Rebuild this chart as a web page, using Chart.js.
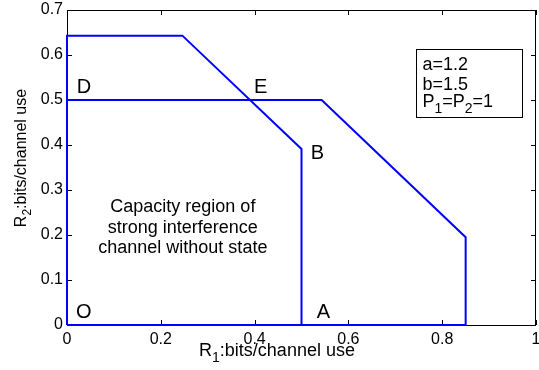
<!DOCTYPE html>
<html>
<head>
<meta charset="utf-8">
<script src="https://cdn.jsdelivr.net/npm/chart.js@4.4.1/dist/chart.umd.min.js"></script>
<style>
  html, body { margin: 0; padding: 0; background: #fff; overflow: hidden; }
  canvas { display: block; }
</style>
</head>
<body>
<canvas id="c" width="539" height="370"></canvas>
<script>
// capacity region with common state info (outer) and without state (inner)
const outerR1 = [0, 0, 0.543, 0.85, 0.85, 0];
const outerR2 = [0, 0.5, 0.5, 0.195, 0, 0];
const innerR1 = [0, 0, 0.246, 0.5, 0.5, 0];
const innerR2 = [0, 0.643, 0.643, 0.391, 0, 0];

const xTicks = [0, 0.2, 0.4, 0.6, 0.8, 1];
const yTicks = [0, 0.1, 0.2, 0.3, 0.4, 0.5, 0.6, 0.7];

const pointLabels = ['D', 'E', 'B', 'O', 'A'];
const noteLines = ['Capacity region of', 'strong interference', 'channel without state'];

const FONT = "'Liberation Sans', Arial, sans-serif";
const BLUE = '#0000ff';

function toPoints(xs, ys) {
  return xs.map((x, i) => ({ x: x, y: ys[i] }));
}

function fmtTick(v) {
  return String(Number(v.toFixed(1)));
}

// text with a subscript, e.g. R_1
function subText(ctx, x, y, parts, size) {
  // parts: [[text, isSub], ...] starting at x (left aligned, alphabetic baseline)
  let cx = x;
  parts.forEach(([t, sub]) => {
    ctx.font = (sub ? Math.round(size * 0.75) : size) + 'px ' + FONT;
    ctx.fillText(t, cx, sub ? y + size * 0.33 : y);
    cx += ctx.measureText(t).width;
  });
  return cx - x;
}

function measureSub(ctx, parts, size) {
  let w = 0;
  parts.forEach(([t, sub]) => {
    ctx.font = (sub ? Math.round(size * 0.75) : size) + 'px ' + FONT;
    w += ctx.measureText(t).width;
  });
  return w;
}

const decorPlugin = {
  id: 'decor',
  beforeDatasetsDraw(chart) {
    const { ctx, chartArea: a } = chart;
    ctx.save();
    ctx.strokeStyle = '#000';
    ctx.lineWidth = 1;
    ctx.strokeRect(a.left + 0.5, a.top + 0.5, a.right - a.left - 1, a.bottom - a.top);
    // inward tick marks on all four sides
    const xs = chart.scales.x, ys = chart.scales.y;
    const len = 5;
    ctx.beginPath();
    xTicks.forEach(v => {
      const px = Math.round(xs.getPixelForValue(v)) + 0.5;
      ctx.moveTo(px, a.bottom); ctx.lineTo(px, a.bottom - len);
      ctx.moveTo(px, a.top); ctx.lineTo(px, a.top + len);
    });
    yTicks.forEach(v => {
      const py = Math.round(ys.getPixelForValue(v)) + 0.5;
      ctx.moveTo(a.left, py); ctx.lineTo(a.left + len, py);
      ctx.moveTo(a.right, py); ctx.lineTo(a.right - len, py);
    });
    ctx.stroke();
    ctx.restore();
  },
  afterDraw(chart) {
    const { ctx } = chart;
    const xs = chart.scales.x, ys = chart.scales.y;
    const X = v => xs.getPixelForValue(v), Y = v => ys.getPixelForValue(v);
    ctx.save();
    ctx.fillStyle = '#000';

    // corner point labels
    const labelPos = [[0.036, 0.531], [0.413, 0.529], [0.534, 0.384], [0.036, 0.031], [0.547, 0.031]];
    ctx.font = '20px ' + FONT;
    ctx.textAlign = 'center';
    ctx.textBaseline = 'middle';
    pointLabels.forEach((t, i) => ctx.fillText(t, X(labelPos[i][0]), Y(labelPos[i][1]) + 1));

    // annotation inside the region
    ctx.font = '18px ' + FONT;
    noteLines.forEach((t, i) => ctx.fillText(t, X(0.247), Y(0.262) + i * 20.5));

    // parameter box
    const bx = X(0.745), by = Y(0.613), bw = X(0.970) - bx, bh = Y(0.462) - by;
    ctx.fillStyle = '#fff';
    ctx.fillRect(bx, by, bw, bh);
    ctx.strokeStyle = '#000';
    ctx.lineWidth = 1;
    ctx.strokeRect(Math.round(bx) + 0.5, Math.round(by) + 0.5, Math.round(bw), Math.round(bh));
    ctx.fillStyle = '#000';
    ctx.textAlign = 'left';
    ctx.textBaseline = 'alphabetic';
    ctx.font = '18px ' + FONT;
    ctx.fillText('a=1.2', bx + 6, by + 21);
    ctx.fillText('b=1.5', bx + 6, by + 41);
    subText(ctx, bx + 6, by + 58, [['P', 0], ['1', 1], ['=P', 0], ['2', 1], ['=1', 0]], 18);

    // axis titles with subscripts
    const xParts = [['R', 0], ['1', 1], [':bits/channel use', 0]];
    const xw = measureSub(ctx, xParts, 18);
    subText(ctx, 277 - xw / 2, 356, xParts, 18);

    const yParts = [['R', 0], ['2', 1], [':bits/channel use', 0]];
    const yw = measureSub(ctx, yParts, 16);
    ctx.translate(26, 158);
    ctx.rotate(-Math.PI / 2);
    subText(ctx, -yw / 2, 0, yParts, 16);
    ctx.restore();
  }
};

const lineStyle = {
  showLine: true,
  borderColor: BLUE,
  backgroundColor: BLUE,
  borderWidth: 2,
  pointRadius: 0,
  fill: false,
  tension: 0,
  clip: false,
};

new Chart(document.getElementById('c'), {
  type: 'scatter',
  data: {
    datasets: [
      { ...lineStyle, label: 'with state', data: toPoints(outerR1, outerR2) },
      { ...lineStyle, label: 'without state', data: toPoints(innerR1, innerR2) },
    ],
  },
  options: {
    responsive: false,
    animation: false,
    layout: { autoPadding: false, padding: { top: 10, right: 3, left: 0, bottom: 0 } },
    plugins: { legend: { display: false }, tooltip: { enabled: false } },
    scales: {
      x: {
        type: 'linear', min: 0, max: 1,
        afterFit: s => { s.height = 45; s.paddingLeft = 0; s.paddingRight = 0; },
        afterBuildTicks: s => { s.ticks = xTicks.map(v => ({ value: v })); },
        grid: { display: false, drawTicks: false },
        border: { display: false },
        ticks: { color: '#000', padding: 5, maxRotation: 0, font: { family: FONT, size: 16 }, callback: fmtTick },
      },
      y: {
        type: 'linear', min: 0, max: 0.7,
        afterFit: s => { s.width = 67; s.paddingTop = 0; s.paddingBottom = 0; },
        afterBuildTicks: s => { s.ticks = yTicks.map(v => ({ value: v })); },
        grid: { display: false, drawTicks: false },
        border: { display: false },
        ticks: { color: '#000', padding: 4, font: { family: FONT, size: 16 }, callback: fmtTick },
      },
    },
  },
  plugins: [decorPlugin],
});
</script>
</body>
</html>
